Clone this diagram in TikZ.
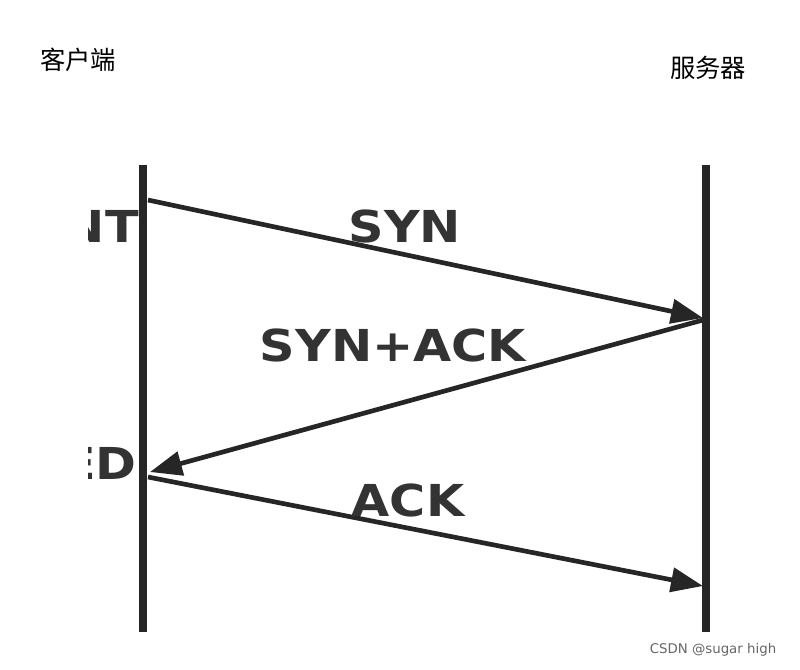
\documentclass[tikz,border=0pt]{standalone}
\usepackage{fontspec}
\setmainfont{DejaVu Sans}
\newfontfamily\cjk{Noto Sans CJK SC}
\usetikzlibrary{arrows.meta}
\begin{document}
\begin{tikzpicture}[x=0.75pt,y=-0.75pt,
  life/.style={line width=5.5pt,draw=black!85},
  msg/.style={line width=3.5pt,draw=black!85,-{Triangle[length=24pt,width=18pt]}},
  lbl/.style={font=\bfseries\fontsize{33}{36}\selectfont,text=black!80,inner sep=0pt,xscale=1.12},
  cn/.style={font=\cjk\fontsize{19}{22}\selectfont,inner sep=0pt}]
\useasboundingbox[fill=white] (0,0) rectangle (800,669);
\coordinate (l1) at (143,165); \coordinate (l2) at (143,632);
\coordinate (r1) at (706,165); \coordinate (r2) at (706,632);
\draw[life] (l1) -- (l2);
\draw[life] (r1) -- (r2);
\coordinate (a1) at (148,200); \coordinate (a2) at (703,318);
\coordinate (b1) at (703,320); \coordinate (b2) at (150,472);
\coordinate (c1) at (148,477); \coordinate (c2) at (703,586);
\draw[msg] (a1) -- (a2);
\draw[msg] (b1) -- (b2);
\draw[msg] (c1) -- (c2);
\node[lbl] (syn) at (405,226) {SYN};
\node[lbl] (synack) at (393,345) {SYN+ACK};
\node[lbl] (ack) at (408,500) {ACK};
\node[lbl,anchor=east] (nt) at (139,226) {NT};
\node[lbl,anchor=east] (ed) at (137,463) {ED};
\fill[white] (0,180) rectangle (88,500);
\node[cn] (client) at (78,60) {客户端};
\node[cn] (server) at (708,68) {服务器};
\node[font=\fontsize{10}{12}\selectfont,text=black!60] (wm) at (713,650) {CSDN @sugar high};
\end{tikzpicture}
\end{document}
